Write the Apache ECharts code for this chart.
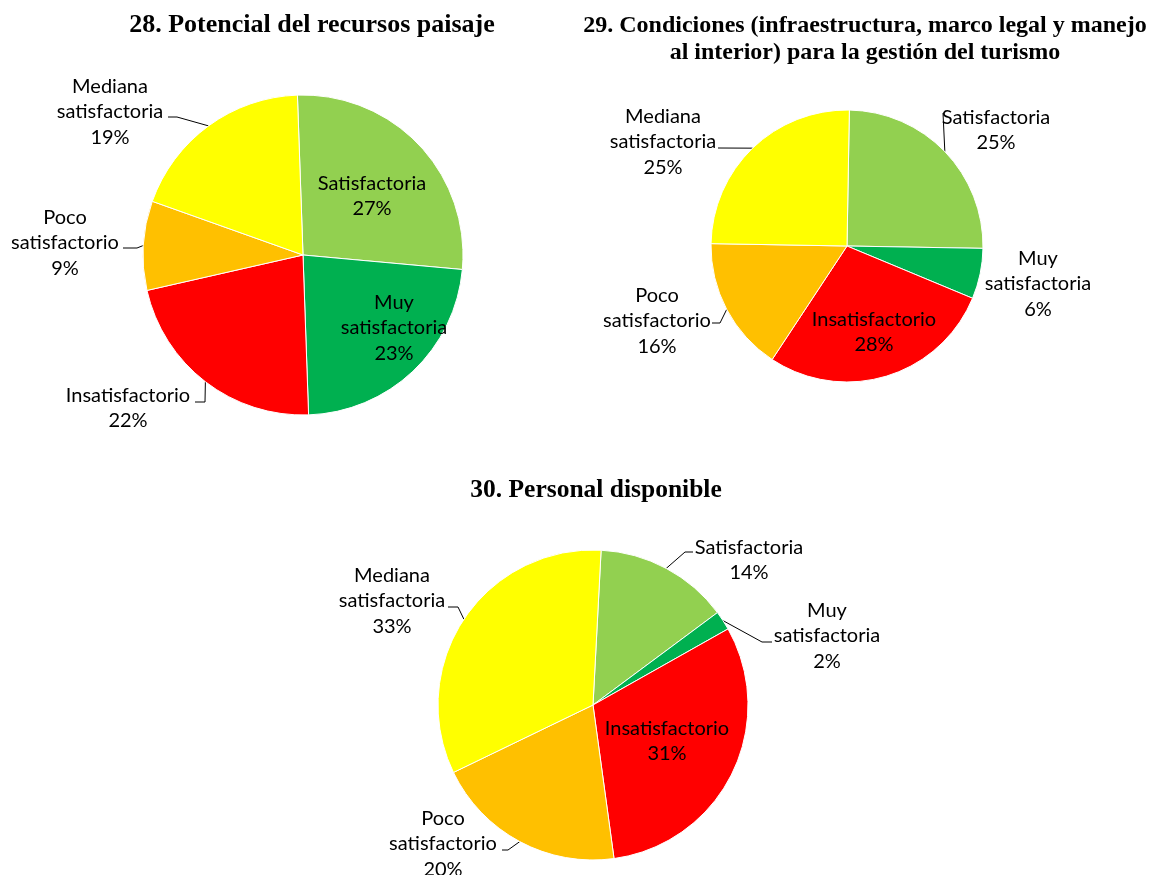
<!DOCTYPE html>
<html>
<head>
<meta charset="utf-8">
<title>Evaluación de recursos turísticos</title>
<script src="https://cdn.jsdelivr.net/npm/echarts@6/dist/echarts.min.js"></script>
<style>
  html, body { margin: 0; padding: 0; background: #ffffff; }
  #chart { width: 1152px; height: 875px; }
</style>
</head>
<body>
<div id="chart"></div>
<script>
// Response categories, in the clockwise order the slices are drawn
const categories = ['Satisfactoria', 'Muy satisfactoria', 'Insatisfactorio', 'Poco satisfactorio', 'Mediana satisfactoria'];

// Share of answers (%) for each question
const pctPaisaje = [27, 23, 22, 9, 19];
const pctCondiciones = [25, 6, 28, 16, 25];
const pctPersonal = [14, 2, 31, 20, 33];

// Question titles
const titlePaisaje = '28. Potencial del recursos paisaje';
const titleCondiciones = '29. Condiciones (infraestructura, marco legal y manejo\nal interior) para la gestión del turismo';
const titlePersonal = '30. Personal disponible';

// Slice colours per category
const sliceColors = ['#92D050', '#00B050', '#FF0000', '#FFC000', '#FFFF00'];

// Pie placement: center, radius, start angle
const pies = [
  { values: pctPaisaje,     center: [303, 255], radius: 160, startAngle: 92 },
  { values: pctCondiciones, center: [847, 246], radius: 136, startAngle: 89 },
  { values: pctPersonal,    center: [593, 705], radius: 155, startAngle: 87 }
];

// Label placement per pie and category: label centre, whether it sits inside
// the slice, and the leader line's elbow and end points (null = no leader)
const labelPlacement = [
  [
    { pos: [372, 196], inside: true },
    { pos: [394, 328], inside: true },
    { pos: [128, 408], leader: [[205, 402], [195, 402]] },
    { pos: [65, 243],  leader: [[137, 248], [123, 248]] },
    { pos: [110, 112], leader: [[177, 117], [168, 117]] }
  ],
  [
    { pos: [996, 130], leader: [[943, 113], [943, 113]] },
    { pos: [1038, 284], leader: null },
    { pos: [874, 332], inside: true },
    { pos: [657, 321], leader: [[720, 323], [712, 323]] },
    { pos: [663, 142], leader: [[718, 148], [718, 148]] }
  ],
  [
    { pos: [749, 560], leader: [[685, 552], [693, 552]] },
    { pos: [827, 636], leader: [[762, 642], [772, 642]] },
    { pos: [667, 741], inside: true },
    { pos: [443, 844], leader: [[508, 850], [502, 850]] },
    { pos: [392, 601], leader: [[458, 607], [448, 607]] }
  ]
];

const labelFont = 'Lato, "Open Sans", sans-serif';

function buildSeries(pie, pieIndex) {
  const place = labelPlacement[pieIndex];
  return {
    type: 'pie',
    center: pie.center,
    radius: pie.radius,
    startAngle: pie.startAngle,
    clockwise: true,
    avoidLabelOverlap: false,
    silent: true,
    animation: false,
    emphasis: { disabled: true },
    itemStyle: { borderColor: '#ffffff', borderWidth: 1 },
    label: {
      show: true,
      position: 'outside',
      color: '#000000',
      fontFamily: labelFont,
      fontSize: 20,
      lineHeight: 25.5,
      align: 'center',
      formatter: function (p) {
        return p.name.replace(' ', '\n') + '\n' + p.value + '%';
      }
    },
    labelLine: {
      show: true,
      smooth: false,
      lineStyle: { color: '#000000', width: 1 }
    },
    labelLayout: function (params) {
      const cfg = place[params.dataIndex];
      const out = { x: cfg.pos[0], y: cfg.pos[1], align: 'center', verticalAlign: 'middle' };
      if (cfg.leader && params.labelLinePoints && params.labelLinePoints.length) {
        const start = params.labelLinePoints[0];
        out.labelLinePoints = [[start[0], start[1]], cfg.leader[0], cfg.leader[1]];
      }
      return out;
    },
    data: categories.map(function (name, i) {
      const cfg = place[i];
      const item = {
        name: name,
        value: pie.values[i],
        itemStyle: { color: sliceColors[i] }
      };
      if (cfg.inside) {
        item.label = { position: 'inside' };
        item.labelLine = { show: false };
      } else if (!cfg.leader) {
        item.labelLine = { show: false };
      }
      return item;
    })
  };
}

const serif = '"Liberation Serif", "Times New Roman", serif';

const chart = echarts.init(document.getElementById('chart'), null, { renderer: 'canvas' });
chart.setOption({
  backgroundColor: '#ffffff',
  animation: false,
  graphic: [
    { type: 'text', x: 312, y: 25, silent: true,
      style: { text: titlePaisaje, font: 'bold 26px ' + serif, fill: '#000', align: 'center', verticalAlign: 'middle' } },
    { type: 'text', x: 865, y: 39, silent: true,
      style: { text: titleCondiciones, font: 'bold 24px ' + serif, lineHeight: 27, fill: '#000', align: 'center', verticalAlign: 'middle' } },
    { type: 'text', x: 596, y: 490, silent: true,
      style: { text: titlePersonal, font: 'bold 25.5px ' + serif, fill: '#000', align: 'center', verticalAlign: 'middle' } }
  ],
  series: pies.map(buildSeries)
});
</script>
</body>
</html>
